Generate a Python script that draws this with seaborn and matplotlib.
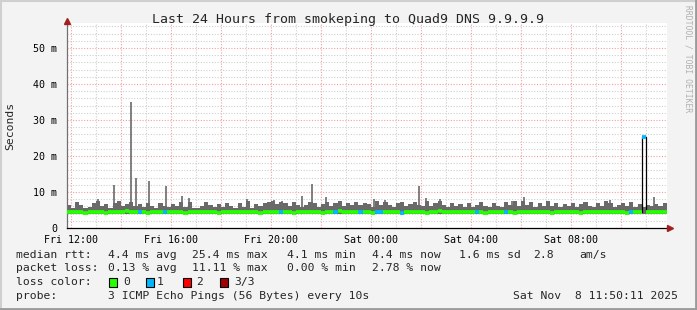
import numpy as np
import pandas as pd
import matplotlib
matplotlib.use("Agg")
import matplotlib.pyplot as plt
import seaborn as sns
from matplotlib.patches import Rectangle
from matplotlib.lines import Line2D

# ---------------- data ----------------
start_hour = 11 + 50 / 60 + 11 / 3600      # Fri 11:50:11 (hours since Fri 00:00)
end_hour = start_hour + 24
bin_hours = 1 / 6                           # 10-minute bins

smoke_top = [
    6.4, 5.6, 7.1, 6.3, 5.5, 5.8, 6.9, 7.6, 6.2, 6.7, 5.6, 6.9, 7.4, 6.1, 6.8, 7.3, 6.0, 6.6, 5.7, 6.9, 6.2, 5.6, 7.0, 6.0,
    5.7, 6.8, 6.1, 7.3, 5.9, 7.2, 5.5, 5.6, 6.1, 7.1, 6.4, 5.7, 6.8, 5.8, 6.9, 6.2, 5.6, 7.0, 5.9, 7.4, 5.6, 6.8, 6.1, 7.0,
    7.1, 7.4, 6.6, 7.2, 6.9, 6.0, 7.1, 6.5, 5.9, 6.3, 7.2, 6.9, 5.8, 6.8, 7.3, 6.1, 7.0, 7.5, 6.0, 6.9, 6.4, 7.3, 6.3, 7.0,
    6.6, 5.9, 7.5, 6.5, 7.2, 6.3, 5.9, 7.0, 7.3, 6.0, 6.6, 7.3, 6.4, 6.0, 7.4, 6.2, 6.9, 7.5, 6.4, 5.9, 7.0, 6.1, 6.8, 5.9,
    7.0, 5.8, 6.5, 7.3, 6.2, 5.9, 7.0, 6.1, 5.8, 7.1, 6.4, 7.4, 6.1, 7.5, 6.4, 7.2, 5.9, 6.9, 6.2, 7.4, 6.0, 7.0, 5.9, 6.8,
    6.0, 6.9, 5.7, 6.8, 7.3, 6.1, 5.8, 7.0, 6.2, 7.4, 6.9, 5.7, 6.3, 6.9, 6.0, 7.2, 5.8, 6.7, 5.7, 6.5, 6.0, 6.8, 6.1, 6.9,
]
smoke_low = [
    3.9, 3.9, 3.8, 3.9, 4.0, 3.9, 3.9, 3.8, 3.9, 3.9, 4.0, 3.9, 3.8, 3.9, 3.9, 3.9, 4.0, 3.8, 3.9, 3.9, 3.9, 3.8, 3.9, 3.8,
    3.9, 4.0, 3.9, 3.9, 3.8, 3.9, 3.9, 4.0, 3.9, 3.9, 3.8, 3.9, 3.9, 3.9, 4.0, 3.9, 3.9, 3.8, 3.9, 3.9, 3.9, 4.0, 3.9, 3.9,
    3.9, 3.8, 3.9, 3.8, 3.9, 3.9, 3.9, 4.0, 3.9, 3.8, 3.9, 3.9, 3.9, 3.9, 3.8, 3.9, 4.0, 3.9, 3.9, 3.8, 3.9, 3.9, 3.8, 3.9,
    3.9, 3.9, 3.8, 3.8, 3.9, 3.9, 4.0, 3.8, 3.9, 3.9, 3.9, 3.8, 3.9, 3.9, 3.9, 3.8, 3.8, 3.9, 3.9, 4.0, 3.9, 3.9, 3.8, 3.9,
    3.9, 3.9, 3.8, 3.9, 3.9, 4.0, 3.9, 3.9, 3.8, 3.9, 3.9, 3.9, 4.0, 3.9, 3.9, 3.8, 3.9, 3.9, 3.9, 4.0, 3.9, 3.9, 3.8, 3.9,
    3.9, 4.0, 3.9, 3.8, 3.9, 3.9, 3.9, 4.0, 3.9, 3.9, 3.8, 3.9, 3.9, 3.9, 4.0, 3.8, 3.9, 3.9, 3.9, 3.9, 4.0, 3.9, 3.9, 3.9,
]
median_ms = [
    4.5, 4.4, 4.4, 4.5, 4.3, 4.4, 4.4, 4.5, 4.4, 4.3, 4.4, 4.5, 4.4, 4.4, 4.6, 4.4, 4.4, 4.5, 4.4, 4.3, 4.4, 4.4, 4.5, 4.5,
    4.4, 4.5, 4.4, 4.4, 4.3, 4.4, 4.5, 4.4, 4.4, 4.4, 4.5, 4.4, 4.3, 4.4, 4.4, 4.5, 4.4, 4.4, 4.4, 4.5, 4.4, 4.4, 4.3, 4.4,
    4.5, 4.4, 4.4, 4.5, 4.4, 4.4, 4.3, 4.4, 4.4, 4.5, 4.4, 4.4, 4.4, 4.3, 4.4, 4.5, 4.4, 4.6, 4.4, 4.4, 4.5, 4.4, 4.4, 4.4,
    4.4, 4.3, 4.4, 4.4, 4.5, 4.4, 4.4, 4.4, 4.3, 4.4, 4.5, 4.4, 4.4, 4.4, 4.3, 4.5, 4.4, 4.6, 4.4, 4.4, 4.4, 4.5, 4.4, 4.4,
    4.4, 4.4, 4.5, 4.4, 4.3, 4.4, 4.4, 4.5, 4.4, 4.4, 4.4, 4.3, 4.4, 4.5, 4.4, 4.4, 4.4, 4.4, 4.5, 4.4, 4.3, 4.4, 4.4, 4.4,
    4.5, 4.4, 4.4, 4.3, 4.4, 4.4, 4.5, 4.4, 4.4, 4.4, 4.5, 4.4, 4.4, 4.4, 4.3, 4.4, 4.4, 4.4, 25.4, 4.4, 4.4, 4.5, 4.4, 4.4,
]
loss1_bins = [17, 23, 51, 64, 70, 74, 75, 80, 98, 105, 135, 138]   # bins with 1 of 3 pings lost

spike_hours = [12.25, 13.09, 13.73, 14.41, 14.61, 15.13, 15.81, 16.45, 16.73, 17.41, 19.05,
               20.13, 20.45, 21.25, 21.65, 22.21, 24.13, 24.57, 25.25, 25.93, 26.21, 26.77,
               29.65, 30.13, 33.57, 35.33]
spike_ms = [7.1, 8.0, 12.0, 35.1, 14.0, 13.0, 11.6, 9.0, 8.4, 7.3, 8.0,
            7.7, 7.4, 8.8, 12.3, 8.5, 8.0, 7.8, 7.3, 11.6, 8.3, 8.1,
            7.6, 8.5, 7.8, 8.7]

loss_colors = ["#26ff00", "#00b8ff", "#ff0000", "#a00000"]
loss_labels = ["0", "1", "2", "3/3"]

tick_hours = [12, 16, 20, 24, 28, 32]
tick_labels = ["Fri 12:00", "Fri 16:00", "Fri 20:00", "Sat 00:00", "Sat 04:00", "Sat 08:00"]

legend_rows = [
    ("median rtt:", [("4.4 ms avg", 107.5), ("25.4 ms max", 192.4), ("4.1 ms min", 286.7),
                     ("4.4 ms now", 372.4), ("1.6 ms sd", 458.7), ("2.8", 533.0), ("am/s", 579.0)]),
    ("packet loss:", [("0.13 % avg", 107.5), ("11.11 % max", 192.4), ("0.00 % min", 286.7),
                      ("2.78 % now", 372.4)]),
]

# ---------------- build table ----------------
n = len(smoke_top)
df = pd.DataFrame({
    "t0": start_hour + np.arange(n) * bin_hours,
    "top": smoke_top,
    "low": smoke_low,
    "median": median_ms,
})
df["t1"] = df["t0"] + bin_hours
df["loss"] = 0
df.loc[loss1_bins, "loss"] = 1

# ---------------- style ----------------
sns.set_style("white")
plt.rcParams["font.family"] = ["DejaVu Sans Mono", "DejaVu Sans"]
W, H = 697, 310
fig = plt.figure(figsize=(W / 100, H / 100), dpi=100, facecolor="#f3f3f3")

L, R, T, B = 66.7, 666.7, 22.5, 228.0
ax = fig.add_axes([L / W, 1 - B / H, (R - L) / W, (B - T) / H])
ax.set_facecolor("white")
ax.set_xlim(start_hour, end_hour)
ax.set_ylim(0, (B - T) / 3.6)

# grid
for h in range(12, 36):
    col = "#f2a0a0" if h % 2 == 0 else "#cfcfcf"
    ax.axvline(h, color=col, lw=0.8, ls=(0, (1, 1.5)), zorder=0)
for v in range(2, 57, 2):
    col = "#f2a0a0" if v % 10 == 0 else "#cfcfcf"
    ax.axhline(v, color=col, lw=0.8, ls=(0, (1, 1.5)), zorder=0)

# smoke
xs = np.append(df["t0"].values, df["t1"].values[-1])
ax.fill_between(xs, np.append(df["low"].values, df["low"].values[-1]),
                np.append(df["top"].values, df["top"].values[-1]),
                step="post", color="#6a6a6a", lw=0, zorder=2)
# outlier pings
ax.vlines(spike_hours, 4.0, spike_ms, color="#6a6a6a", lw=1.2, zorder=2)

# median: thin black step + loss-coloured segments
med_df = pd.DataFrame({"t": xs, "m": np.append(df["median"].values, df["median"].values[-1])})
sns.lineplot(data=med_df, x="t", y="m", ax=ax, color="black", lw=0.9,
             drawstyle="steps-post", zorder=3)
for k in range(4):
    sub = df[df["loss"] == k]
    if len(sub):
        ax.hlines(sub["median"], sub["t0"], sub["t1"], colors=loss_colors[k],
                  lw=2.7, zorder=4, capstyle="butt")

# axes decoration
for s in ["top", "right"]:
    ax.spines[s].set_visible(False)
ax.spines["left"].set_color("#707070")
ax.spines["left"].set_linewidth(0.9)
ax.spines["bottom"].set_color("black")
ax.spines["bottom"].set_linewidth(0.9)

ax.set_xticks(range(12, 36, 2))
ax.set_xticklabels([tick_labels[tick_hours.index(h)] if h in tick_hours else "" for h in range(12, 36, 2)])
ax.set_yticks(range(0, 60, 10))
ax.set_yticklabels(["0"] + [f"{v} m" for v in range(10, 60, 10)])
ax.tick_params(axis="x", length=2.5, width=0.8, color="#e08080", pad=2.5, labelsize=7.2, labelcolor="black")
ax.tick_params(axis="y", length=2.5, width=0.8, color="#e08080", pad=4.5, labelsize=7.2, labelcolor="black")
ax.set_xlabel("")
ax.set_ylabel("")

# arrows
ax.plot([start_hour], [ax.get_ylim()[1] + 0.3], marker="^", ms=5, color="#a02020",
        clip_on=False, zorder=6)
ax.plot([end_hour + 0.12], [0], marker=">", ms=5, color="#a02020", clip_on=False, zorder=6)

# texts
fig.text(348 / W, 1 - 19 / H, "Last 24 Hours from smokeping to Quad9 DNS 9.9.9.9",
         ha="center", va="center", fontsize=9.5)
fig.text(10 / W, 1 - 126 / H, "Seconds", rotation=90, ha="center", va="center", fontsize=8.2)
fig.text(688 / W, 1 - 59 / H, "RRDTOOL / TOBI OETIKER", rotation=270, ha="center", va="center",
         fontsize=5.8, color="#b0b0b0")

fs = 8.2
row_y = [254.7, 268.3, 282.3, 296.0]
for (lab, items), yy in zip(legend_rows, row_y):
    fig.text(16.4 / W, 1 - yy / H, lab, ha="left", va="center", fontsize=fs)
    for txt, xx in items:
        fig.text(xx / W, 1 - yy / H, txt, ha="left", va="center", fontsize=fs)

yy = row_y[2]
fig.text(16.4 / W, 1 - yy / H, "loss color:", ha="left", va="center", fontsize=fs)
box_x = [109.0, 145.8, 182.7, 219.6]
lab_x = [123.6, 156.4, 196.4, 234.0]
for k in range(4):
    fig.patches.append(Rectangle((box_x[k] / W, 1 - (yy + 4.5) / H), 8 / W, 9 / H,
                                 transform=fig.transFigure, facecolor=loss_colors[k],
                                 edgecolor="black", lw=0.8))
    fig.text(lab_x[k] / W, 1 - yy / H, loss_labels[k], ha="left", va="center", fontsize=fs)

yy = row_y[3]
fig.text(16.4 / W, 1 - yy / H, "probe:", ha="left", va="center", fontsize=fs)
fig.text(107.5 / W, 1 - yy / H, "3 ICMP Echo Pings (56 Bytes) every 10s", ha="left", va="center", fontsize=fs)
fig.text(513.3 / W, 1 - yy / H, "Sat Nov  8 11:50:11 2025", ha="left", va="center", fontsize=fs)

# frame border
fig.add_artist(Line2D([0, 1], [0.998, 0.998], transform=fig.transFigure, color="#cfcfcf", lw=1.5))
fig.add_artist(Line2D([0.001, 0.001], [0, 1], transform=fig.transFigure, color="#cfcfcf", lw=1.5))
fig.add_artist(Line2D([0, 1], [0.003, 0.003], transform=fig.transFigure, color="#9a9a9a", lw=2))
fig.add_artist(Line2D([0.998, 0.998], [0, 1], transform=fig.transFigure, color="#9a9a9a", lw=2))

fig.savefig("out.png", dpi=100, facecolor=fig.get_facecolor())
